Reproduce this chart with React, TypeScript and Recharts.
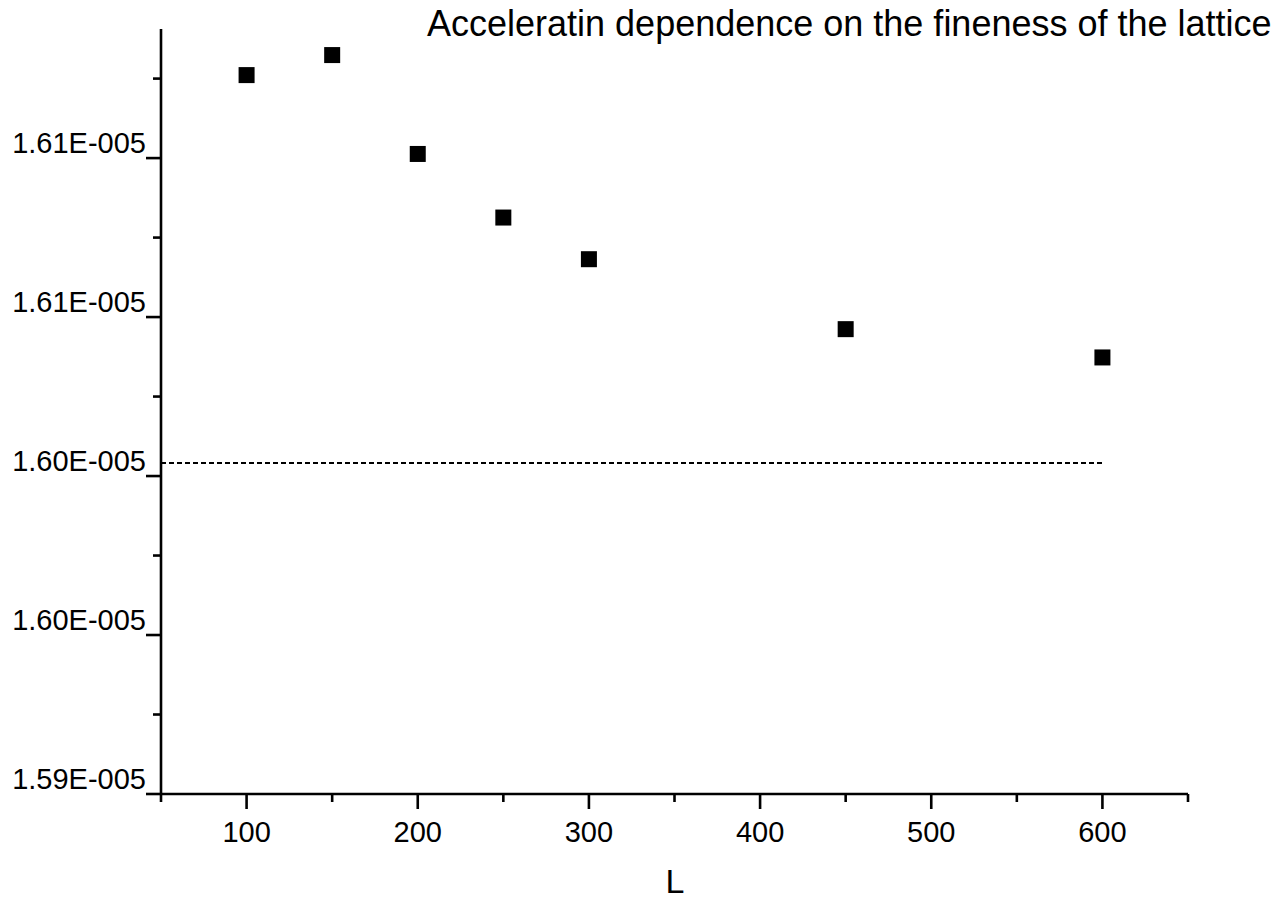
import { ScatterChart, Scatter, XAxis, YAxis, ReferenceLine } from 'recharts';

const L_VALUES = [100, 150, 200, 250, 300, 450, 600];
const ACCEL = [1.61261e-5, 1.61324e-5, 1.61013e-5, 1.60813e-5, 1.60682e-5, 1.60462e-5, 1.60373e-5];
const LIMIT = 1.60041e-5;
const LIMIT_L = [50, 600];

const X_MAJOR = [100, 200, 300, 400, 500, 600];
const X_MINOR = [50, 150, 250, 350, 450, 550, 650];
const Y_MAJOR = [1.59e-5, 1.595e-5, 1.6e-5, 1.605e-5, 1.61e-5];
const Y_MINOR = [1.5925e-5, 1.5975e-5, 1.6025e-5, 1.6075e-5, 1.6125e-5];
const Y_LABELS = ['1.59E-005', '1.60E-005', '1.60E-005', '1.61E-005', '1.61E-005'];

const TITLE = 'Acceleratin dependence on the fineness of the lattice';
const X_TITLE = 'L';

const FONT = '"Liberation Sans", Arial, sans-serif';
const W = 1282;
const H = 903;

const points = L_VALUES.map((L, i) => ({ L, a: ACCEL[i] }));

function XTick(props: any) {
  const { x, y, payload } = props;
  const major = X_MAJOR.includes(payload.value);
  return (
    <g>
      <line x1={x} x2={x} y1={y} y2={y + (major ? 15 : 8)} stroke="#000" strokeWidth={2.6} />
      {major && (
        <text x={x} y={y + 48} textAnchor="middle" fontSize={29} fontFamily={FONT} fill="#000">
          {payload.value}
        </text>
      )}
    </g>
  );
}

function YTick(props: any) {
  const { x, y, payload } = props;
  const idx = Y_MAJOR.indexOf(payload.value);
  const major = idx >= 0;
  return (
    <g>
      <line x1={x - (major ? 15 : 8)} x2={x} y1={y} y2={y} stroke="#000" strokeWidth={2.6} />
      {major && (
        <text x={x - 15} y={y - 5} textAnchor="end" fontSize={29} fontFamily={FONT} fill="#000">
          {Y_LABELS[idx]}
        </text>
      )}
    </g>
  );
}

const Square = (props: any) => {
  const { cx, cy } = props;
  return <rect x={cx - 8} y={cy - 8} width={16} height={16} fill="#000" />;
};

export default function App() {
  return (
    <div style={{ position: 'absolute', left: 0, top: 0, width: W, height: H, background: '#fff' }}>
      <ScatterChart width={W} height={H} margin={{ top: 29, right: 94, left: 0, bottom: 0 }}>
        <XAxis
          type="number"
          dataKey="L"
          domain={[50, 650]}
          ticks={[...X_MINOR, ...X_MAJOR].sort((a, b) => a - b)}
          height={109}
          tickSize={0}
          tickMargin={0}
          tickLine={false}
          tick={<XTick />}
          axisLine={{ stroke: '#000', strokeWidth: 2.6 }}
          allowDataOverflow
        />
        <YAxis
          type="number"
          dataKey="a"
          domain={[1.59e-5, 1.61406e-5]}
          ticks={[...Y_MINOR, ...Y_MAJOR].sort((a, b) => a - b)}
          width={161}
          tickSize={0}
          tickMargin={0}
          tickLine={false}
          tick={<YTick />}
          axisLine={{ stroke: '#000', strokeWidth: 2.6 }}
          allowDataOverflow
        />
        <ReferenceLine
          segment={[
            { x: LIMIT_L[0], y: LIMIT },
            { x: LIMIT_L[1], y: LIMIT },
          ]}
          stroke="#000"
          strokeWidth={2}
          strokeDasharray="5 3"
          ifOverflow="visible"
        />
        <Scatter data={points} fill="#000" shape={<Square />} isAnimationActive={false} />
      </ScatterChart>
      <svg width={W} height={H} style={{ position: 'absolute', left: 0, top: 0, pointerEvents: 'none' }}>
        <text x={427} y={36} fontSize={36} fontFamily={FONT} fill="#000">
          {TITLE}
        </text>
        <text x={675} y={893} textAnchor="middle" fontSize={34} fontFamily={FONT} fill="#000">
          {X_TITLE}
        </text>
      </svg>
    </div>
  );
}
